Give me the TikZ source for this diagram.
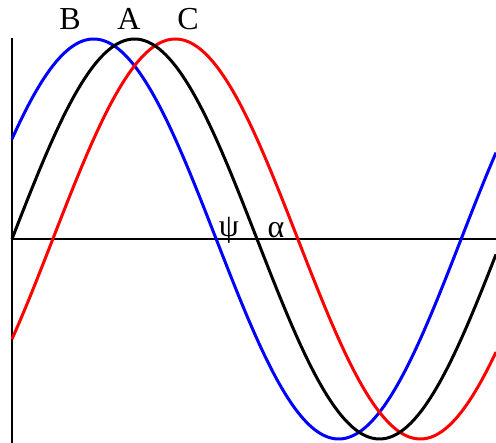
\documentclass[tikz,border=0pt]{standalone}
\usepackage{fontspec}
\setmainfont{Liberation Serif}
\begin{document}
\begin{tikzpicture}[x=1pt,y=-1pt,
  wave/.style={line width=3pt,smooth,samples=200},
  axisline/.style={line width=1.6pt,black},
  lbl/.style={font=\fontsize{32}{36}\selectfont,inner sep=0pt,anchor=base}]
\useasboundingbox (0,0) rectangle (496,443);
\coordinate (o) at (12,239);
\coordinate (top) at (12,38);
\coordinate (bot) at (12,443);
\coordinate (right) at (496,239);
\draw[axisline] (top) -- (bot);
\draw[axisline] (o) -- (right);
\draw[wave,blue] plot[domain=12:496] (\x,{239-200*sin((\x-12)/490*360+30)});
\draw[wave,red] plot[domain=12:496] (\x,{239-200*sin((\x-12)/490*360-30)});
\draw[wave,black] plot[domain=12:496] (\x,{239-200*sin((\x-12)/490*360)});
\node[lbl] (B) at (70,30) {B};
\node[lbl] (A) at (129,30) {A};
\node[lbl] (C) at (188,30) {C};
\node[lbl] (psi) at (229,237) {ψ};
\node[lbl] (alpha) at (276,238) {α};
\end{tikzpicture}
\end{document}
